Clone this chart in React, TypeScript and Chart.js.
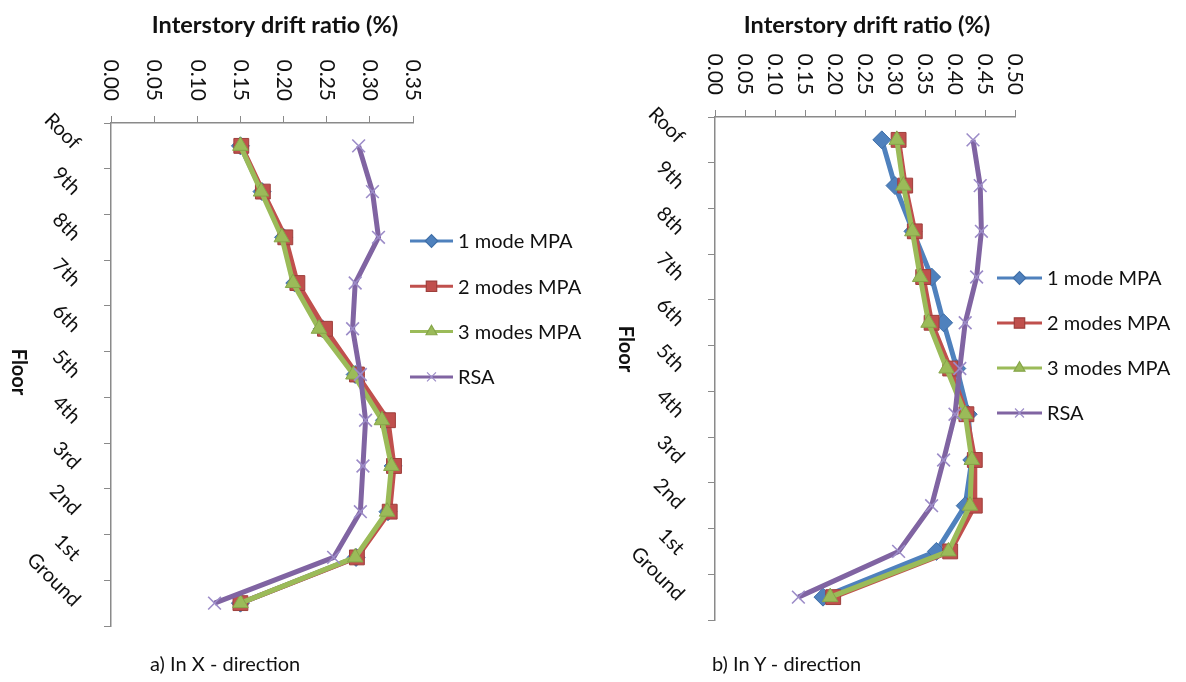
import React, { useEffect, useRef } from 'react';
import { Chart, registerables } from 'chart.js';
import { drawPoint } from 'chart.js/helpers';

Chart.register(...registerables);

// ---------- data ----------
const floors = ['Roof', '9th', '8th', '7th', '6th', '5th', '4th', '3rd', '2nd', '1st', 'Ground'];
const seriesNames = ['1 mode MPA', '2 modes MPA', '3 modes MPA', 'RSA'];

// a) X - direction, interstory drift ratio (%)
const oneModeX = [0.150, 0.175, 0.200, 0.213, 0.245, 0.283, 0.317, 0.327, 0.321, 0.284, 0.150];
const twoModesX = [0.151, 0.176, 0.202, 0.216, 0.248, 0.285, 0.321, 0.328, 0.323, 0.285, 0.150];
const threeModesX = [0.150, 0.174, 0.198, 0.211, 0.241, 0.281, 0.314, 0.325, 0.320, 0.283, 0.150];
const rsaX = [0.287, 0.303, 0.310, 0.283, 0.280, 0.289, 0.295, 0.292, 0.289, 0.258, 0.120];

// b) Y - direction, interstory drift ratio (%)
const oneModeY = [0.278, 0.300, 0.330, 0.361, 0.381, 0.403, 0.422, 0.428, 0.417, 0.369, 0.180];
const twoModesY = [0.306, 0.317, 0.333, 0.347, 0.361, 0.392, 0.419, 0.433, 0.433, 0.392, 0.197];
const threeModesY = [0.303, 0.314, 0.329, 0.342, 0.356, 0.386, 0.417, 0.428, 0.425, 0.389, 0.192];
const rsaY = [0.430, 0.442, 0.444, 0.436, 0.417, 0.408, 0.400, 0.381, 0.361, 0.306, 0.139];

const xMaxX = 0.35;
const xMaxY = 0.5;
const xStep = 0.05;

const axisTitle = 'Interstory drift ratio (%)';
const floorTitle = 'Floor';
const captionX = 'a) In X - direction';
const captionY = 'b) In Y - direction';

// ---------- styles ----------
const FONT = 'Lato, "Open Sans", "DejaVu Sans", sans-serif';
const seriesStyle = [
  { color: '#4F81BD', marker: 'rectRot', radius: 9, mFill: '#4F81BD', mBorder: '#3F6FA8', order: 3 },
  { color: '#C0504D', marker: 'rect', radius: 10.5, mFill: '#C0504D', mBorder: '#9E3F3C', order: 2 },
  { color: '#9BBB59', marker: 'triangle', radius: 9, mFill: '#9BBB59', mBorder: '#86A64A', order: 1 },
  { color: '#8064A2', marker: 'crossRot', radius: 9, mFill: '#9C8CC8', mBorder: '#9C8CC8', order: 0 },
];

const CW = 593;
const CH = 682;

type Panel = {
  left: number;
  values: number[][];
  xMax: number;
  yWidth: number;
  xHeight: number;
  padRight: number;
  padBottom: number;
  titleX: number;
  titleY: number;
  floorX: number;
  floorY: number;
  legendX0: number;
  legendX1: number;
  legendTextX: number;
  legendY0: number;
  legendStep: number;
  caption: string;
  captionLeft: number;
};

const panels: Panel[] = [
  {
    left: 0,
    values: [oneModeX, twoModesX, threeModesX, rsaX],
    xMax: xMaxX,
    yWidth: 111,
    xHeight: 123,
    padRight: 180,
    padBottom: 56,
    titleX: 275,
    titleY: 25,
    floorX: 18,
    floorY: 372,
    legendX0: 410,
    legendX1: 453,
    legendTextX: 458,
    legendY0: 241,
    legendStep: 45.3,
    caption: captionX,
    captionLeft: 150,
  },
  {
    left: 593,
    values: [oneModeY, twoModesY, threeModesY, rsaY],
    xMax: xMaxY,
    yWidth: 122,
    xHeight: 117,
    padRight: 171,
    padBottom: 62,
    titleX: 274,
    titleY: 25,
    floorX: 32,
    floorY: 349,
    legendX0: 404,
    legendX1: 449,
    legendTextX: 454,
    legendY0: 278,
    legendStep: 45,
    caption: captionY,
    captionLeft: 712,
  },
];

const decorPlugin = {
  id: 'decor',
  afterDraw(chart: any, _args: any, opts: any) {
    const p: Panel = opts.panel;
    const ctx = chart.ctx as CanvasRenderingContext2D;
    const xs = chart.scales.x;
    const ys = chart.scales.y;
    ctx.save();
    ctx.fillStyle = '#111';

    // axis title
    ctx.font = `bold 23.5px ${FONT}`;
    ctx.textAlign = 'center';
    ctx.textBaseline = 'middle';
    ctx.fillText(axisTitle, p.titleX, p.titleY);

    // x tick labels (rotated, reading top to bottom)
    ctx.font = `21px ${FONT}`;
    xs.ticks.forEach((t: any) => {
      const px = xs.getPixelForValue(t.value);
      ctx.save();
      ctx.translate(px, xs.bottom - 22);
      ctx.rotate(Math.PI / 2);
      ctx.textAlign = 'right';
      ctx.textBaseline = 'middle';
      ctx.fillText(Number(t.value).toFixed(2), 0, 0);
      ctx.restore();
    });

    // y category labels (rotated 45 deg)
    ctx.font = `20px ${FONT}`;
    floors.forEach((f, i) => {
      const py = ys.getPixelForValue(i);
      ctx.save();
      ctx.translate(ys.right - 34, py);
      ctx.rotate(Math.PI / 4);
      ctx.textAlign = 'right';
      ctx.textBaseline = 'middle';
      ctx.fillText(f, 0, 0);
      ctx.restore();
    });

    // Floor title
    ctx.save();
    ctx.font = `bold 20px ${FONT}`;
    ctx.translate(p.floorX, p.floorY);
    ctx.rotate(Math.PI / 2);
    ctx.textAlign = 'center';
    ctx.textBaseline = 'middle';
    ctx.fillText(floorTitle, 0, 0);
    ctx.restore();

    // legend
    ctx.font = `20px ${FONT}`;
    seriesNames.forEach((name, i) => {
      const s = seriesStyle[i];
      const y = p.legendY0 + i * p.legendStep;
      ctx.strokeStyle = s.color;
      ctx.lineWidth = 3;
      ctx.beginPath();
      ctx.moveTo(p.legendX0, y);
      ctx.lineTo(p.legendX1, y);
      ctx.stroke();
      ctx.fillStyle = s.mFill;
      ctx.strokeStyle = s.mBorder;
      ctx.lineWidth = 1.2;
      drawPoint(ctx, { pointStyle: s.marker, rotation: 0, radius: s.radius * 0.7, borderWidth: 1.2 } as any,
        (p.legendX0 + p.legendX1) / 2, y);
      ctx.fillStyle = '#111';
      ctx.textAlign = 'left';
      ctx.textBaseline = 'middle';
      ctx.fillText(name, p.legendTextX, y + 1);
    });
    ctx.restore();
  },
};

function PanelChart({ panel }: { panel: Panel }) {
  const ref = useRef<HTMLCanvasElement | null>(null);
  useEffect(() => {
    if (!ref.current) return;
    const chart = new Chart(ref.current, {
      type: 'line',
      data: {
        labels: floors,
        datasets: seriesNames.map((name, i) => {
          const s = seriesStyle[i];
          return {
            label: name,
            data: panel.values[i],
            borderColor: s.color,
            backgroundColor: s.mFill,
            borderWidth: 5,
            pointStyle: s.marker,
            pointRadius: s.radius,
            pointHoverRadius: s.radius,
            pointBackgroundColor: s.mFill,
            pointBorderColor: s.mBorder,
            pointBorderWidth: i === 3 ? 1.6 : 1,
            tension: 0,
            fill: false,
            order: s.order,
          } as any;
        }),
      },
      options: {
        responsive: false,
        animation: false,
        devicePixelRatio: 1,
        indexAxis: 'y',
        layout: { padding: { left: 0, top: 0, right: panel.padRight, bottom: panel.padBottom } },
        plugins: {
          legend: { display: false },
          tooltip: { enabled: false },
          decor: { panel },
        } as any,
        scales: {
          x: {
            type: 'linear',
            position: 'top',
            min: 0,
            max: panel.xMax,
            ticks: { display: false, stepSize: xStep },
            grid: { drawOnChartArea: false, drawTicks: true, tickLength: 7, color: '#8a8a8a', lineWidth: 1 },
            border: { display: true, color: '#8a8a8a', width: 1.5 },
            afterFit: (s: any) => { s.height = panel.xHeight; },
          },
          y: {
            type: 'category',
            position: 'left',
            offset: true,
            ticks: { display: false },
            grid: { offset: true, drawOnChartArea: false, drawTicks: true, tickLength: 7, color: '#8a8a8a', lineWidth: 1 },
            border: { display: true, color: '#8a8a8a', width: 1.5 },
            afterFit: (s: any) => { s.width = panel.yWidth; },
          },
        },
      } as any,
      plugins: [decorPlugin],
    });
    return () => chart.destroy();
  }, [panel]);
  return (
    <canvas
      ref={ref}
      width={CW}
      height={CH}
      style={{ position: 'absolute', left: panel.left, top: 0, width: CW, height: CH }}
    />
  );
}

export default function App() {
  return (
    <div style={{ position: 'fixed', left: 0, top: 0, width: 1186, height: 682, background: '#fff', overflow: 'hidden' }}>
      {panels.map((p, i) => (
        <PanelChart key={i} panel={p} />
      ))}
      {panels.map((p, i) => (
        <div
          key={'c' + i}
          style={{
            position: 'absolute',
            left: p.captionLeft,
            top: 650,
            fontFamily: FONT,
            fontSize: 20,
            color: '#111',
            whiteSpace: 'nowrap',
            lineHeight: '26px',
          }}
        >
          {p.caption}
        </div>
      ))}
    </div>
  );
}
